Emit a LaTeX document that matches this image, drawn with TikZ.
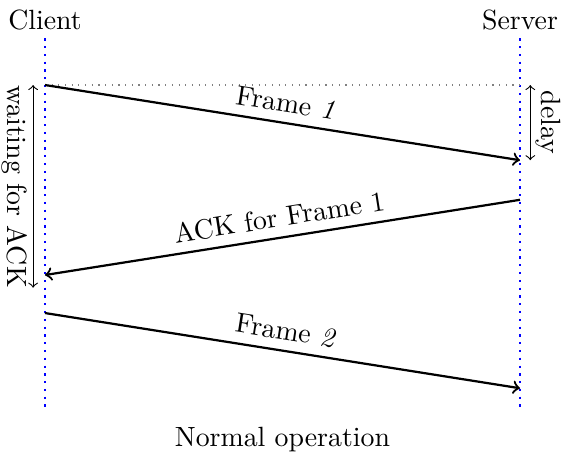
\documentclass[tikz,border=0pt]{standalone}
\usetikzlibrary{positioning}

\begin{document}
\begin{tikzpicture}[
	lifeline/.style={thick, dotted, blue},
	frame/.style={thick, ->},
	span/.style={<->},
	spanlabel/.style={midway, sloped, inner sep=1.8pt}]

	\useasboundingbox (-0.568,1.074) rectangle (6.518,-4.711);

	% Node definitions.
	\node (client) at (0,0.82) {Client};
	\node (server) at (6,0.82) {Server};

	\coordinate (c_top) at (0,0.59);
	\coordinate (c_bot) at (0,-4.12);
	\coordinate (s_top) at (6,0.59);
	\coordinate (s_bot) at (6,-4.12);

	\coordinate (f1_out) at (0,0);
	\coordinate  (f1_in) at (6,-0.95);
	\coordinate (a1_out) at (6,-1.45);
	\coordinate  (a1_in) at (0,-2.40);
	\coordinate (f2_out) at (0,-2.88);
	\coordinate  (f2_in) at (6,-3.83);

	\coordinate (w_top) at (-0.15,0);
	\coordinate (w_bot) at (-0.15,-2.56);
	\coordinate (s_ref) at (6,0);
	\coordinate (d_top) at (6.13,0);
	\coordinate (d_bot) at (6.13,-0.95);

	% Lifelines.
	\draw[lifeline] (c_top) -- (c_bot);
	\draw[lifeline] (s_top) -- (s_bot);
	\draw[gray, dotted] (f1_out) -- (s_ref);

	% Arrows.
	\draw[frame] (f1_out) -- node[midway, above, sloped] {Frame \textit{1}} (f1_in);
	\draw[frame] (a1_out) -- node[midway, above, sloped] {ACK for Frame 1} (a1_in);
	\draw[frame] (f2_out) -- node[midway, above, sloped] {Frame \textit{2}} (f2_in);

	% Spans.
	\draw[span] (w_top) -- node[spanlabel, below] {waiting for ACK} (w_bot);
	\draw[span] (d_top) -- node[spanlabel, above] {delay} (d_bot);

	% Title.
	\node (title) at (3,-4.48) {Normal operation};

\end{tikzpicture}
\end{document}
